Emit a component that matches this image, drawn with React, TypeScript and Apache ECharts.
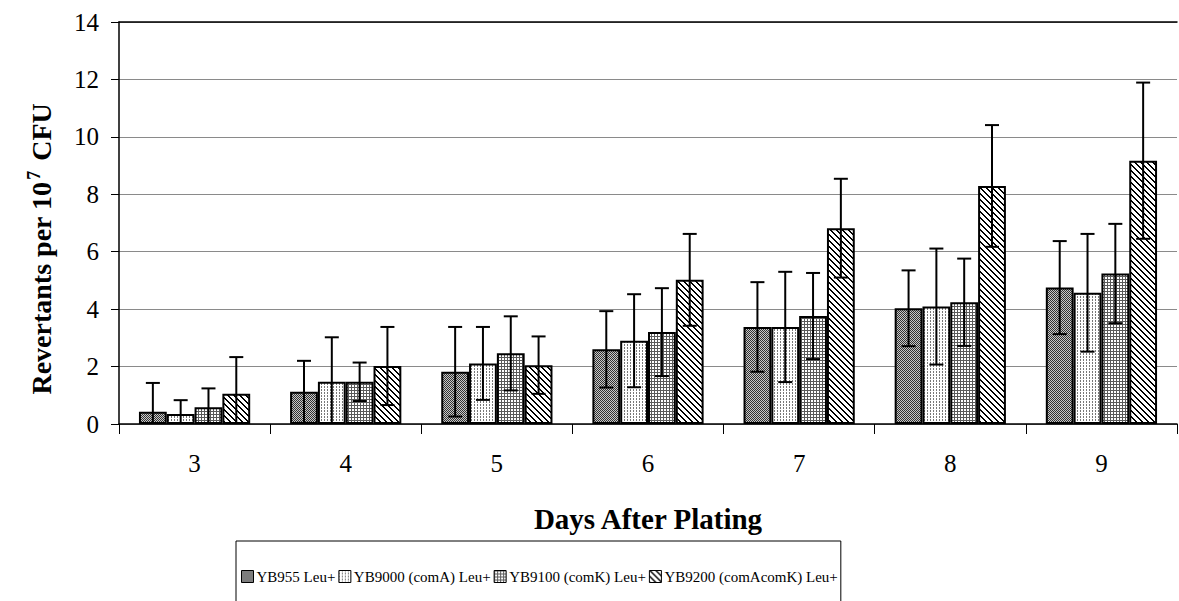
import React, { useEffect, useRef } from "react";
import * as echarts from "echarts";

const categories = ["3", "4", "5", "6", "7", "8", "9"];
const seriesNames = [
  "YB955 Leu+",
  "YB9000 (comA) Leu+",
  "YB9100 (comK) Leu+",
  "YB9200 (comAcomK) Leu+",
];
const yb955 = [0.43, 1.12, 1.82, 2.6, 3.38, 4.03, 4.75];
const yb955Err = [1.0, 1.08, 1.56, 1.33, 1.56, 1.32, 1.62];
const yb9000 = [0.35, 1.47, 2.11, 2.9, 3.38, 4.09, 4.57];
const yb9000Err = [0.48, 1.55, 1.27, 1.62, 1.92, 2.02, 2.05];
const yb9100 = [0.58, 1.47, 2.46, 3.2, 3.76, 4.24, 5.24];
const yb9100Err = [0.66, 0.67, 1.29, 1.53, 1.5, 1.52, 1.73];
const yb9200 = [1.05, 2.02, 2.05, 5.02, 6.82, 8.29, 9.17];
const yb9200Err = [1.28, 1.36, 1.0, 1.6, 1.72, 2.12, 2.72];
const yTicks = { min: 0, max: 14, interval: 2 };

const means = [yb955, yb9000, yb9100, yb9200];
const errs = [yb955Err, yb9000Err, yb9100Err, yb9200Err];

const BAR_FRAC = 0.184;
const FONT = "Liberation Serif";

function makePattern(kind: number) {
  const size = kind === 3 ? 6 : kind === 0 ? 2 : 3;
  const c = document.createElement("canvas");
  c.width = size;
  c.height = size;
  const ctx = c.getContext("2d")!;
  const img = ctx.createImageData(size, size);
  for (let y = 0; y < size; y++) {
    for (let x = 0; x < size; x++) {
      let v = 255;
      if (kind === 0) {
        v = (x + y) % 2 === 0 ? 50 : 200;
      } else if (kind === 1) {
        v = x === 0 && y % 2 === 0 ? 120 : 255;
      } else if (kind === 2) {
        v = x === 0 || y === 0 ? 90 : 255;
      } else {
        v = (((x - y) % size) + size) % size < 2 ? 0 : 255;
      }
      const i = (y * size + x) * 4;
      img.data[i] = v;
      img.data[i + 1] = v;
      img.data[i + 2] = v;
      img.data[i + 3] = 255;
    }
  }
  ctx.putImageData(img, 0, 0);
  return {
    image: c,
    repeat: "repeat",
    imageWidth: size,
    imageHeight: size,
  } as any;
}

export default function App() {
  const ref = useRef<HTMLDivElement>(null);
  useEffect(() => {
    document.body.style.margin = "0";
    const chart = echarts.init(ref.current!, null, { renderer: "svg" });
    const patterns = [0, 1, 2, 3].map(makePattern);

    const barSeries = seriesNames.map((name, si) => ({
      name,
      type: "bar",
      data: means[si],
      barWidth: BAR_FRAC * 100 + "%",
      barGap: "0%",
      itemStyle: {
        color: patterns[si],
        borderColor: "#000",
        borderWidth: 2,
      },
      z: 2,
    }));

    const errSeries = seriesNames.map((name, si) => ({
      name: name + " err",
      type: "custom",
      data: means[si].map((m, i) => [i, m, errs[si][i]]),
      encode: { x: 0, y: 1 },
      z: 5,
      renderItem: (params: any, api: any) => {
        const ci = api.value(0);
        const m = api.value(1);
        const e = api.value(2);
        const band = api.size([1, 0])[0];
        const bw = band * BAR_FRAC;
        const cx = api.coord([ci, m])[0] + (si - 1.5) * bw;
        const top = api.coord([ci, m + e])[1];
        const low = m - e;
        const bottom = api.coord([ci, Math.max(0, low)])[1];
        const style = { stroke: "#000", lineWidth: 2 };
        const children: any[] = [
          { type: "line", shape: { x1: cx, y1: top, x2: cx, y2: bottom }, style },
          { type: "line", shape: { x1: cx - 7, y1: top, x2: cx + 7, y2: top }, style },
        ];
        if (low > 0) {
          children.push({
            type: "line",
            shape: { x1: cx - 7, y1: bottom, x2: cx + 7, y2: bottom },
            style,
          });
        }
        return { type: "group", children };
      },
    }));

    chart.setOption({
      animation: false,
      backgroundColor: "#fff",
      textStyle: { fontFamily: FONT, color: "#000" },
      grid: { left: 119, right: 2, top: 22, bottom: 177 },
      legend: {
        data: seriesNames,
        left: 236,
        top: 541,
        orient: "horizontal",
        borderColor: "#000",
        borderWidth: 1,
        padding: [28, 3, 24, 5],
        itemGap: 3,
        itemWidth: 12,
        itemHeight: 12,
        icon: "rect",
        textStyle: { fontSize: 15, fontFamily: FONT, color: "#000", padding: [0, 0, 0, -2] },
        itemStyle: { borderColor: "#000", borderWidth: 1 },
      },
      xAxis: [
        {
          type: "category",
          data: categories,
          name: "Days After Plating",
          nameLocation: "middle",
          nameGap: 80,
          nameTextStyle: { fontSize: 29, fontWeight: "bold", fontFamily: FONT, color: "#000" },
          axisLine: { lineStyle: { color: "#000", width: 1.5 } },
          axisTick: { show: true, length: 10, lineStyle: { color: "#000" } },
          axisLabel: { fontSize: 25, margin: 27, color: "#000", fontFamily: FONT },
        },
        {
          type: "category",
          data: categories,
          position: "top",
          axisLine: { show: true, lineStyle: { color: "#000", width: 1.5 } },
          axisTick: { show: false },
          axisLabel: { show: false },
        },
      ],
      yAxis: {
        type: "value",
        min: yTicks.min,
        max: yTicks.max,
        interval: yTicks.interval,
        name: "{a|Revertants per 10}{s|7}{a| CFU}",
        nameLocation: "middle",
        nameGap: 62,
        nameTextStyle: {
          padding: [0, 52, 0, 0],
          rich: {
            a: { fontSize: 28, fontWeight: "bold", fontFamily: FONT, color: "#000", lineHeight: 32 },
            s: { fontSize: 18, fontWeight: "bold", fontFamily: FONT, color: "#000", verticalAlign: "top", lineHeight: 32, padding: [0, 3, 0, 2] },
          },
        },
        axisLine: { show: true, lineStyle: { color: "#000", width: 1.5 } },
        axisTick: { show: true, length: 8, lineStyle: { color: "#000" } },
        axisLabel: { fontSize: 25, margin: 20, color: "#000", fontFamily: FONT },
        splitLine: { show: true, lineStyle: { color: "#8a8a8a", width: 1 } },
      },
      series: [...barSeries, ...errSeries],
    });
    return () => chart.dispose();
  }, []);
  return <div ref={ref} style={{ width: 1179, height: 601 }} />;
}
